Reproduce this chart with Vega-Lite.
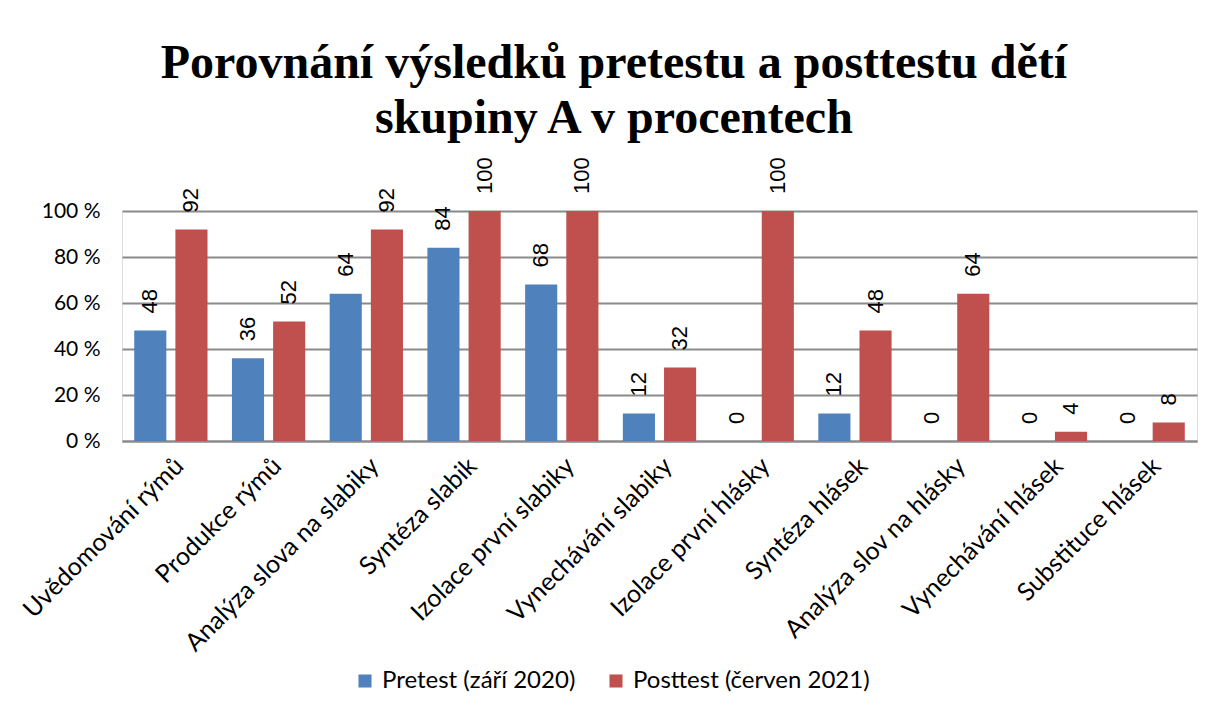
{
  "$schema": "https://vega.github.io/schema/vega-lite/v6.json",
  "width": 1075,
  "height": 230,
  "autosize": "none",
  "padding": {"left": 122, "top": 211, "right": 10, "bottom": 272},
  "background": "white",
  "title": {
    "text": ["Porovnání výsledků pretestu a posttestu dětí", "skupiny A v procentech"],
    "font": "Liberation Serif",
    "fontSize": 48,
    "fontWeight": "bold",
    "color": "black",
    "anchor": "middle",
    "frame": "bounds",
    "offset": 14,
    "lineHeight": 55,
    "dx": 6
  },
  "data": {
    "values": [
      {"kategorie": "Uvědomování rýmů", "test": "Pretest (září 2020)", "hodnota": 48},
      {"kategorie": "Uvědomování rýmů", "test": "Posttest (červen 2021)", "hodnota": 92},
      {"kategorie": "Produkce rýmů", "test": "Pretest (září 2020)", "hodnota": 36},
      {"kategorie": "Produkce rýmů", "test": "Posttest (červen 2021)", "hodnota": 52},
      {"kategorie": "Analýza slova na slabiky", "test": "Pretest (září 2020)", "hodnota": 64},
      {"kategorie": "Analýza slova na slabiky", "test": "Posttest (červen 2021)", "hodnota": 92},
      {"kategorie": "Syntéza slabik", "test": "Pretest (září 2020)", "hodnota": 84},
      {"kategorie": "Syntéza slabik", "test": "Posttest (červen 2021)", "hodnota": 100},
      {"kategorie": "Izolace první slabiky", "test": "Pretest (září 2020)", "hodnota": 68},
      {"kategorie": "Izolace první slabiky", "test": "Posttest (červen 2021)", "hodnota": 100},
      {"kategorie": "Vynechávání slabiky", "test": "Pretest (září 2020)", "hodnota": 12},
      {"kategorie": "Vynechávání slabiky", "test": "Posttest (červen 2021)", "hodnota": 32},
      {"kategorie": "Izolace první hlásky", "test": "Pretest (září 2020)", "hodnota": 0},
      {"kategorie": "Izolace první hlásky", "test": "Posttest (červen 2021)", "hodnota": 100},
      {"kategorie": "Syntéza hlásek", "test": "Pretest (září 2020)", "hodnota": 12},
      {"kategorie": "Syntéza hlásek", "test": "Posttest (červen 2021)", "hodnota": 48},
      {"kategorie": "Analýza slov na hlásky", "test": "Pretest (září 2020)", "hodnota": 0},
      {"kategorie": "Analýza slov na hlásky", "test": "Posttest (červen 2021)", "hodnota": 64},
      {"kategorie": "Vynechávání hlásek", "test": "Pretest (září 2020)", "hodnota": 0},
      {"kategorie": "Vynechávání hlásek", "test": "Posttest (červen 2021)", "hodnota": 4},
      {"kategorie": "Substituce hlásek", "test": "Pretest (září 2020)", "hodnota": 0},
      {"kategorie": "Substituce hlásek", "test": "Posttest (červen 2021)", "hodnota": 8}
    ]
  },
  "encoding": {
    "x": {
      "field": "kategorie",
      "type": "nominal",
      "sort": null,
      "scale": {"paddingInner": 0.25, "paddingOuter": 0.125},
      "axis": {
        "title": null,
        "labelAngle": -45,
        "labelFont": "Lato",
        "labelFontSize": 25,
        "labelColor": "black",
        "labelPadding": 12,
        "ticks": false,
        "domain": true,
        "domainColor": "#8a8a8a",
        "domainWidth": 2,
        "labelLimit": 400
      }
    },
    "xOffset": {
      "field": "test",
      "type": "nominal",
      "sort": ["Pretest (září 2020)", "Posttest (červen 2021)"],
      "scale": {"paddingInner": 0.22}
    },
    "y": {
      "field": "hodnota",
      "type": "quantitative",
      "scale": {"domain": [0, 100]},
      "axis": {
        "title": null,
        "values": [0, 20, 40, 60, 80, 100],
        "labelExpr": "datum.value + ' %'",
        "labelFont": "Lato",
        "labelFontSize": 21,
        "labelColor": "black",
        "labelPadding": 22,
        "ticks": false,
        "domain": false,
        "grid": true,
        "gridColor": "#8a8a8a",
        "gridWidth": 2
      }
    }
  },
  "layer": [
    {
      "mark": {"type": "bar"},
      "encoding": {
        "color": {
          "field": "test",
          "type": "nominal",
          "sort": ["Pretest (září 2020)", "Posttest (červen 2021)"],
          "scale": {"domain": ["Pretest (září 2020)", "Posttest (červen 2021)"], "range": ["#4F81BD", "#C0504D"]},
          "legend": {
            "title": null,
            "orient": "none",
            "legendX": 231,
            "legendY": 458,
            "direction": "horizontal",
            "symbolType": "square",
            "symbolSize": 170,
            "symbolStrokeWidth": 0,
            "labelFont": "Lato",
            "labelFontSize": 24,
            "labelColor": "black",
            "labelOffset": 5,
            "columnPadding": 28,
            "labelLimit": 400
          }
        }
      }
    },
    {
      "mark": {"type": "text", "angle": 270, "align": "left", "baseline": "middle", "dx": 17, "font": "Liberation Sans", "fontSize": 22, "color": "black"},
      "encoding": {
        "text": {"field": "hodnota", "type": "quantitative"}
      }
    }
  ]
}
